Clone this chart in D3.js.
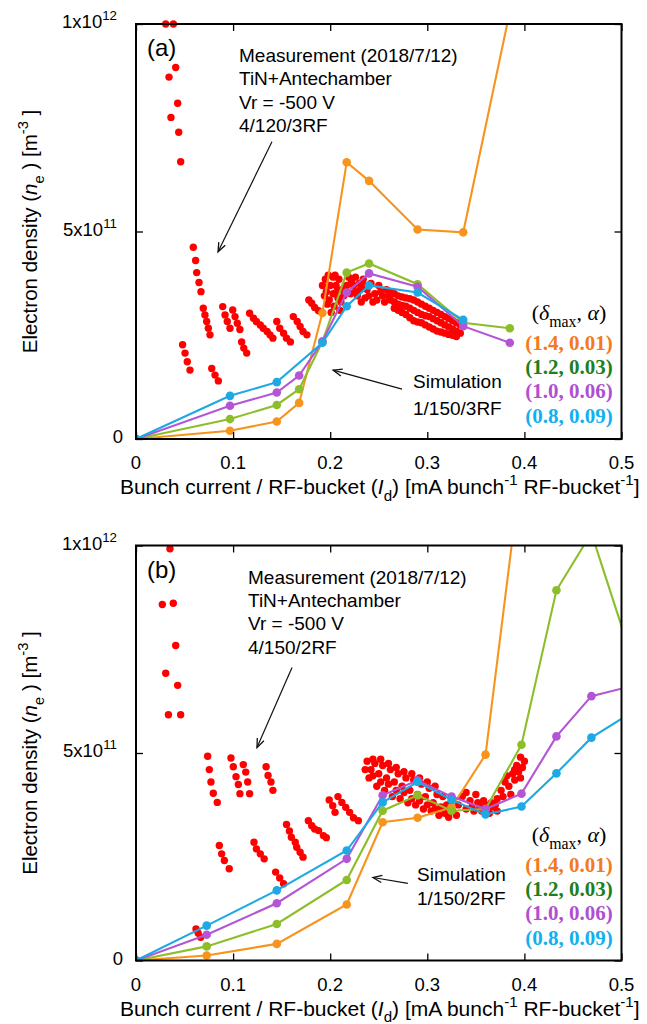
<!DOCTYPE html>
<html>
<head>
<meta charset="utf-8">
<script src="https://cdn.jsdelivr.net/npm/d3@7"></script>
<style>
  body { margin: 0; background: #fff; }
  svg text { font-family: "Liberation Sans", Arial, Helvetica, sans-serif; fill: #000; }
  .serif { font-family: "Liberation Serif", "Times New Roman", serif; }
</style>
</head>
<body>
<svg id="chart" width="647" height="1024"></svg>
<script>
// ---------- axes ----------
const xTicks = [0, 0.1, 0.2, 0.3, 0.4, 0.5];
const xTickLabels = ["0", "0.1", "0.2", "0.3", "0.4", "0.5"];
// electron density in units of 1e11 m^-3
const yTicks = [0, 5, 10];
const yTickMantissa = ["0", "5x10", "1x10"];
const yTickExponent = ["", "11", "12"];

// ---------- legend ----------
const legendLabels = ["(1.4, 0.01)", "(1.2, 0.03)", "(1.0, 0.06)", "(0.8, 0.09)"];
const lineColors = ["#F7941D", "#8DBE2A", "#B455D6", "#1CA9E4"];
const legendColors = ["#F47A22", "#1D7F1F", "#B04FD2", "#12B0EE"];

// ---------- (a) 1/150/3RF simulation ----------
const simCurrentA = [0, 0.0968, 0.145, 0.168, 0.192, 0.217, 0.240, 0.290, 0.337, 0.385];
const simA_14 = [0, 0.20, 0.42, 0.87, 3.04, 6.67, 6.22, 5.05, 4.98, 10.3];
const simA_12 = [0, 0.48, 0.82, 1.20, 2.35, 4.01, 4.23, 3.73, 2.80, 2.67];
const simA_10 = [0, 0.80, 1.12, 1.53, 2.35, 3.53, 3.99, 3.67, 2.72, 2.32];
const simA_08 = [0, 1.04, 1.37, null, 2.32, 3.20, 3.70, 3.53, 2.87, null];

// ---------- (b) 1/150/2RF simulation ----------
const simCurrentB = [0, 0.0728, 0.145, 0.217, 0.254, 0.290, 0.325, 0.360, 0.397, 0.433, 0.469, 0.505];
const simB_14 = [0, 0.12, 0.40, 1.35, 3.33, 3.44, 3.69, 4.96, 11.9, null, null, null];
const simB_12 = [0, 0.34, 0.88, 1.94, 3.61, 3.98, 3.61, 3.65, 5.20, 8.92, 10.3, 7.7];
const simB_10 = [0, 0.62, 1.38, 2.45, 3.98, 4.34, 3.95, 3.65, 4.02, 5.40, 6.37, 6.58];
const simB_08 = [0, 0.84, 1.69, 2.65, 3.81, 4.30, 3.87, 3.52, 3.71, 4.51, 5.37, 5.90];

// ---------- (a) measurement 4/120/3RF ----------
const measA = [
  [0.0306,10.0],[0.0385,10.0],[0.0409,8.95],[0.034,8.72],[0.0429,8.09],[0.036,7.75],[0.044,7.39],[0.046,6.68],
  [0.059,4.62],[0.0614,4.30],[0.0625,4.01],[0.0649,3.77],[0.0669,3.55],
  [0.0693,3.15],[0.071,2.99],[0.0728,2.83],[0.0745,2.67],[0.0762,2.51],
  [0.048,2.27],[0.0505,2.07],[0.0528,1.86],[0.0556,1.66],
  [0.078,1.70],[0.0814,1.54],[0.0848,1.40],
  [0.0893,3.19],[0.0917,2.99],[0.094,2.83],[0.0968,2.67],
  [0.0996,3.11],[0.102,2.95],[0.1043,2.79],[0.107,2.64],
  [0.1088,2.34],[0.111,2.19],[0.114,2.07],
  [0.117,3.03],[0.121,2.91],[0.124,2.83],[0.128,2.75],[0.131,2.67],[0.135,2.59],[0.138,2.51],[0.141,2.43],
  [0.145,2.83],[0.148,2.67],[0.152,2.55],[0.155,2.43],[0.159,2.34],
  [0.162,2.95],[0.166,2.83],[0.169,2.71],[0.172,2.59],[0.176,2.51],
  [0.178,3.35],[0.181,3.27],[0.184,3.17],[0.188,3.09],
  [0.192,3.70],[0.195,3.85],[0.198,3.95],[0.196,3.55],[0.200,3.70],[0.203,3.90],[0.199,3.35],[0.203,3.50],
  [0.206,3.70],[0.204,3.20],[0.208,3.40],[0.210,3.10],[0.209,3.85],[0.212,3.60],
  [0.194,3.45],[0.197,3.25],[0.201,3.05],[0.205,3.95],[0.207,3.55],[0.211,3.30],[0.214,3.45],[0.217,3.70],
  [0.219,3.90],[0.221,3.50],[0.224,3.70],[0.228,3.45],[0.231,3.60],[0.235,3.70],[0.240,3.45],[0.248,3.35],
  [0.252,3.55],[0.256,3.30],[0.260,3.45],
  [0.222,3.80],[0.226,3.90],[0.230,3.75],[0.234,3.85],[0.238,3.60],[0.242,3.75],[0.236,3.40],[0.246,3.50],
  [0.250,3.70],[0.254,3.45],[0.258,3.60],[0.244,3.30],[0.226,3.55],[0.232,3.30],
  [0.262,3.55],[0.262,3.35],[0.270,3.45],[0.270,3.25],[0.270,3.10],[0.278,3.40],[0.278,3.20],[0.278,3.00],
  [0.286,3.35],[0.286,3.10],[0.286,2.85],[0.294,3.25],[0.294,3.00],[0.294,2.80],[0.302,3.15],[0.302,2.95],
  [0.302,2.70],[0.310,3.05],[0.310,2.85],[0.310,2.60],[0.318,2.95],[0.318,2.75],[0.318,2.55],[0.326,2.85],
  [0.326,2.65],[0.326,2.50],[0.334,2.75],[0.334,2.55],
  [0.266,3.50],[0.266,3.30],[0.266,3.15],[0.274,3.42],[0.274,3.22],[0.274,3.05],[0.282,3.38],[0.282,3.15],
  [0.282,2.92],[0.290,3.30],[0.290,3.05],[0.290,2.82],[0.298,3.20],[0.298,2.97],[0.298,2.75],[0.306,3.10],
  [0.306,2.90],[0.306,2.65],[0.314,3.00],[0.314,2.80],[0.314,2.58],[0.322,2.90],[0.322,2.70],[0.322,2.52],
  [0.330,2.80],[0.330,2.60],[0.330,2.47]
];

// ---------- (b) measurement 4/150/2RF ----------
const measB = [
  [0.035,9.92],[0.0271,8.58],[0.0384,8.61],[0.0409,7.59],[0.0306,6.92],[0.0429,6.63],[0.0334,5.92],[0.046,5.92],
  [0.0738,4.92],[0.0755,4.60],[0.0772,4.30],[0.0796,4.03],[0.0837,3.81],
  [0.0978,4.88],[0.1002,4.67],[0.103,4.43],[0.1054,4.24],[0.107,4.02],
  [0.1105,4.72],[0.113,4.54],[0.115,4.30],[0.117,4.02],
  [0.134,4.67],[0.136,4.46],[0.139,4.30],[0.141,4.10],
  [0.0858,2.77],[0.0882,2.57],[0.091,2.41],[0.096,2.21],
  [0.1215,2.85],[0.124,2.69],[0.128,2.57],[0.132,2.45],
  [0.1438,2.13],[0.148,1.99],[0.152,1.85],
  [0.155,3.28],[0.158,3.12],[0.160,2.97],[0.164,2.85],[0.1655,2.73],[0.169,2.61],[0.172,2.49],
  [0.1775,3.37],[0.181,3.25],[0.184,3.17],[0.188,3.13],[0.193,3.01],[0.196,2.96],
  [0.199,3.87],[0.2026,3.73],[0.205,3.57],
  [0.208,3.95],[0.212,3.81],[0.216,3.69],[0.220,3.57],[0.224,3.44],[0.229,3.37],
  [0.0618,0.76],[0.064,0.66],[0.0666,0.56],
  [0.238,4.80],[0.242,4.60],[0.246,4.75],[0.250,4.50],[0.254,4.70],[0.258,4.40],[0.262,4.60],[0.266,4.30],
  [0.270,4.50],[0.274,4.20],[0.278,4.40],[0.282,4.10],[0.286,4.35],[0.290,4.00],[0.294,4.25],[0.298,3.95],
  [0.302,4.15],[0.306,3.80],[0.310,4.00],[0.314,3.70],[0.318,3.55],[0.322,3.45],[0.240,4.40],[0.248,4.20],
  [0.256,4.10],[0.264,3.95],[0.272,3.90],[0.280,3.80],[0.288,3.75],[0.296,3.65],[0.304,3.60],[0.312,3.50],
  [0.236,4.60],[0.244,4.85],[0.244,4.45],[0.252,4.85],[0.252,4.30],[0.260,4.75],[0.260,4.25],[0.268,4.65],
  [0.268,4.10],[0.276,4.55],[0.276,4.05],[0.284,4.50],[0.284,3.90],[0.292,4.40],[0.292,3.85],[0.300,4.30],
  [0.300,3.75],[0.308,4.20],[0.308,3.65],[0.316,3.95],[0.320,3.75],[0.326,3.60],[0.330,3.50],
  [0.332,3.75],[0.336,3.95],[0.340,3.65],[0.344,3.85],[0.348,3.60],[0.352,3.80],[0.356,3.60],[0.360,3.75],
  [0.364,3.55],[0.368,3.70],[0.372,3.60],[0.340,4.05],[0.350,4.00],
  [0.346,3.70],[0.354,3.70],[0.362,3.65],[0.358,3.85],[0.366,3.80],[0.370,3.75],
  [0.372,3.90],[0.376,4.10],[0.380,4.30],[0.384,4.20],[0.388,4.50],[0.392,4.70],[0.396,4.90],[0.400,4.80],
  [0.386,4.00],[0.390,4.35],[0.394,4.55],[0.398,4.65],[0.378,3.95],[0.382,4.45],[0.390,4.60],[0.396,4.40]
];

const svg = d3.select("#chart");
const left = 136, right = 621.5, panelH = 415;

const panels = [
  {
    letter: "(a)", top: 24, simX: simCurrentA, sims: [simA_14, simA_12, simA_10, simA_08], meas: measA,
    measText: ["Measurement (2018/7/12)", "TiN+Antechamber", "Vr = -500 V", "4/120/3RF"], measDx: 103,
    measArrow: [[0.140, 7.16], [0.0845, 4.51]],
    simText: ["Simulation", "1/150/3RF"], simDx: 277, simDy: [-51, -24],
    simArrow: [[0.274, 1.20], [0.203, 1.66]]
  },
  {
    letter: "(b)", top: 545.5, simX: simCurrentB, sims: [simB_14, simB_12, simB_10, simB_08], meas: measB,
    measText: ["Measurement (2018/7/12)", "TiN+Antechamber", "Vr = -500 V", "4/150/2RF"], measDx: 112,
    measArrow: [[0.1607, 7.06], [0.1246, 5.13]],
    simText: ["Simulation", "1/150/2RF"], simDx: 281, simDy: [-80, -56],
    simArrow: [[0.280, 1.86], [0.244, 2.00]]
  }
];

// arrowhead shared by all annotation arrows
const defs = svg.append("defs");
defs.append("marker")
  .attr("id", "head").attr("viewBox", "-10 -5 12 10")
  .attr("refX", 0).attr("refY", 0)
  .attr("markerWidth", 12).attr("markerHeight", 10)
  .attr("markerUnits", "userSpaceOnUse").attr("orient", "auto")
  .append("path").attr("d", "M-9,-3.6 L0,0 L-9,3.6").attr("fill", "none")
  .attr("stroke", "#111").attr("stroke-width", 1.3);

// text builder with italic / sub / superscript pieces
function rich(textSel, parts, base) {
  let shift = 0;
  parts.forEach(p => {
    const ts = textSel.append("tspan").text(p.t);
    let target = 0;
    if (p.sup) { target = -base * 0.42; ts.attr("font-size", base * 0.72); }
    if (p.sub) { target = base * 0.32; ts.attr("font-size", base * 0.72); }
    if (p.it) ts.attr("font-style", "italic");
    ts.attr("dy", target - shift);
    shift = target;
  });
}

panels.forEach((P, pi) => {
  const bottom = P.top + panelH;
  const x = d3.scaleLinear().domain([0, 0.5]).range([left, right]);
  const y = d3.scaleLinear().domain([0, 10]).range([bottom, P.top]);
  const g = svg.append("g");

  const clipId = "clip" + pi;
  defs.append("clipPath").attr("id", clipId)
    .append("rect").attr("x", left).attr("y", P.top)
    .attr("width", right - left).attr("height", panelH);

  // measurement points
  g.append("g").selectAll("circle").data(P.meas).join("circle")
    .attr("cx", d => x(d[0])).attr("cy", d => y(d[1])).attr("r", 3.7)
    .attr("fill", "#FF0000");

  // simulation curves
  P.sims.forEach((vals, si) => {
    const pts = P.simX.map((v, i) => [v, vals[i]]).filter(d => d[1] !== null);
    const sg = g.append("g").attr("clip-path", `url(#${clipId})`);
    sg.append("path").datum(pts)
      .attr("d", d3.line().x(d => x(d[0])).y(d => y(d[1])))
      .attr("fill", "none").attr("stroke", lineColors[si]).attr("stroke-width", 2.1);
    sg.selectAll("circle").data(pts.filter(d => d[0] <= 0.5 && d[1] <= 10)).join("circle")
      .attr("cx", d => x(d[0])).attr("cy", d => y(d[1])).attr("r", 4.3)
      .attr("fill", lineColors[si]);
  });

  // frame and inward ticks on all sides
  const tick = 7;
  g.append("g").attr("transform", `translate(0,${bottom})`)
    .call(d3.axisBottom(x).tickValues(xTicks).tickSizeInner(-tick).tickSizeOuter(0).tickFormat(""))
    .call(a => a.select(".domain").remove());
  g.append("g").attr("transform", `translate(0,${P.top})`)
    .call(d3.axisTop(x).tickValues(xTicks).tickSizeInner(-tick).tickSizeOuter(0).tickFormat(""))
    .call(a => a.select(".domain").remove());
  g.append("g").attr("transform", `translate(${left},0)`)
    .call(d3.axisLeft(y).tickValues(yTicks).tickSizeInner(-tick).tickSizeOuter(0).tickFormat(""))
    .call(a => a.select(".domain").remove());
  g.append("g").attr("transform", `translate(${right},0)`)
    .call(d3.axisRight(y).tickValues(yTicks).tickSizeInner(-tick).tickSizeOuter(0).tickFormat(""))
    .call(a => a.select(".domain").remove());
  g.selectAll(".tick line").attr("stroke", "#000").attr("stroke-width", 1.3);
  g.append("rect").attr("x", left).attr("y", P.top)
    .attr("width", right - left).attr("height", panelH)
    .attr("fill", "none").attr("stroke", "#000").attr("stroke-width", 2);

  // tick labels
  g.append("g").selectAll("text").data(xTicks).join("text")
    .attr("x", d => x(d)).attr("y", bottom + 30)
    .attr("text-anchor", "middle").attr("font-size", 18.5)
    .text((d, i) => xTickLabels[i]);
  yTicks.forEach((v, i) => {
    const t = g.append("text")
      .attr("x", yTickExponent[i] ? left - 19 : left - 13)
      .attr("y", y(v) + 4).attr("text-anchor", "end").attr("font-size", 18.5);
    const parts = [{ t: yTickMantissa[i] }];
    if (yTickExponent[i]) parts.push({ t: yTickExponent[i], sup: true });
    rich(t, parts, 18.5);
  });

  // axis titles
  const xt = g.append("text").attr("x", (left + right) / 2 + 1).attr("y", bottom + 55)
    .attr("text-anchor", "middle").attr("font-size", 21);
  rich(xt, [{ t: "Bunch current / RF-bucket (" }, { t: "I", it: true }, { t: "d", sub: true },
    { t: ") [mA bunch" }, { t: "-1", sup: true }, { t: " RF-bucket" }, { t: "-1", sup: true }, { t: "]" }], 21);

  const yt = g.append("text")
    .attr("transform", `translate(37,${(P.top + bottom) / 2}) rotate(-90)`)
    .attr("text-anchor", "middle").attr("font-size", 20.5);
  rich(yt, [{ t: "Electron density (" }, { t: "n", it: true }, { t: "e", sub: true },
    { t: " ) [m" }, { t: "-3", sup: true }, { t: " ]" }], 20.5);

  // panel letter
  g.append("text").attr("x", left + 11).attr("y", P.top + 32)
    .attr("font-size", 24).text(P.letter);

  // measurement annotation
  P.measText.forEach((s, i) => {
    g.append("text").attr("x", left + P.measDx).attr("y", P.top + 38 + i * 23.4)
      .attr("font-size", 19).text(s);
  });
  g.append("line")
    .attr("x1", x(P.measArrow[0][0])).attr("y1", y(P.measArrow[0][1]))
    .attr("x2", x(P.measArrow[1][0])).attr("y2", y(P.measArrow[1][1]))
    .attr("stroke", "#111").attr("stroke-width", 1.2).attr("marker-end", "url(#head)");

  // simulation annotation
  P.simText.forEach((s, i) => {
    g.append("text").attr("x", left + P.simDx).attr("y", bottom + P.simDy[i])
      .attr("font-size", 19).text(s);
  });
  g.append("line")
    .attr("x1", x(P.simArrow[0][0])).attr("y1", y(P.simArrow[0][1]))
    .attr("x2", x(P.simArrow[1][0])).attr("y2", y(P.simArrow[1][1]))
    .attr("stroke", "#111").attr("stroke-width", 1.2).attr("marker-end", "url(#head)");

  // legend
  const lx = 569;
  const hdr = g.append("text").attr("class", "serif").attr("x", lx).attr("y", bottom - 119)
    .attr("text-anchor", "middle").attr("font-size", 22);
  rich(hdr, [{ t: "(" }, { t: "δ", it: true }, { t: "max", sub: true }, { t: ", " }, { t: "α", it: true }, { t: ")" }], 22);
  const legY = [-89, -65, -41, -16];
  legendLabels.forEach((s, i) => {
    g.append("text").attr("class", "serif").attr("x", lx).attr("y", bottom + legY[i])
      .attr("text-anchor", "middle").attr("font-size", 21).attr("font-weight", "bold")
      .style("fill", legendColors[i]).text(s);
  });
});
</script>
</body>
</html>
